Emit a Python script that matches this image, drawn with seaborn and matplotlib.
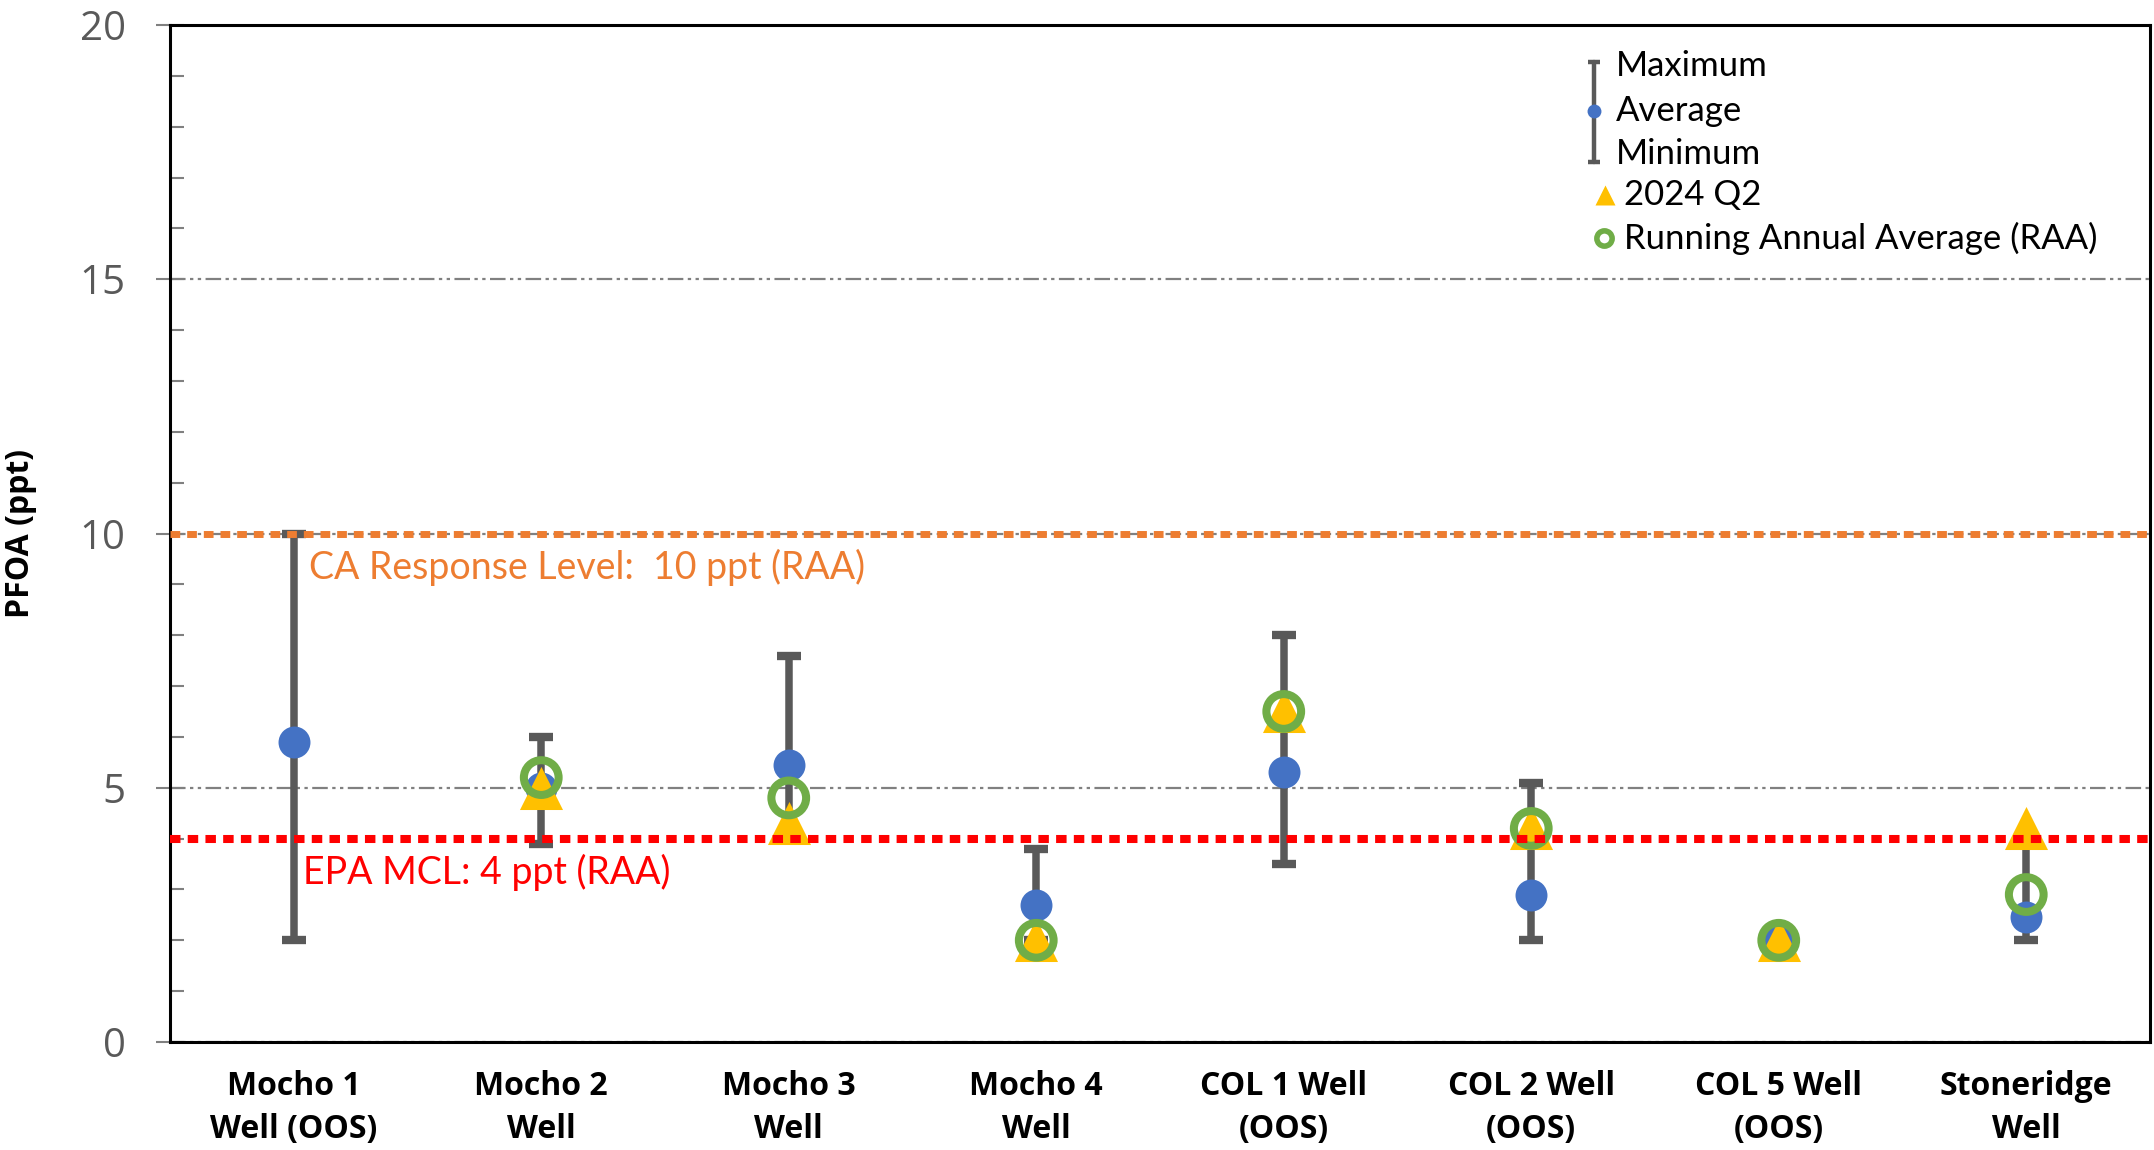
import numpy as np
import pandas as pd
import matplotlib
matplotlib.use("Agg")
import matplotlib.pyplot as plt
import seaborn as sns

# PFOA sampling summary per well (ppt)
wells = ["Mocho 1\nWell (OOS)", "Mocho 2\nWell", "Mocho 3\nWell", "Mocho 4\nWell",
         "COL 1 Well\n(OOS)", "COL 2 Well\n(OOS)", "COL 5 Well\n(OOS)", "Stoneridge\nWell"]
maximum = [10.0, 6.0, 7.6, 3.8, 8.0, 5.1, 2.0, 4.0]
average = [5.9, 5.0, 5.45, 2.7, 5.3, 2.9, 2.0, 2.45]
minimum = [2.0, 3.9, 4.0, 2.0, 3.5, 2.0, 2.0, 2.0]
q2_2024 = [np.nan, 5.0, 4.3, 2.0, 6.5, 4.2, 2.0, 4.2]
raa = [np.nan, 5.2, 4.8, 2.0, 6.5, 4.2, 2.0, 2.9]

ca_response_level = 10
epa_mcl = 4
y_ticks = [0, 5, 10, 15, 20]

BLUE = "#4472C4"
GOLD = "#FFC000"
GREEN = "#70AD47"
BAR = "#595959"
ORANGE = "#ED7D31"
RED = "#FF0000"
GRID = "#808080"
TICK_TXT = "#595959"

sns.set_theme(style="white")
plt.rcParams["font.family"] = ["Open Sans", "DejaVu Sans"]

df = pd.DataFrame({
    "pos": np.arange(len(wells)),
    "well": wells,
    "maximum": maximum,
    "average": average,
    "minimum": minimum,
    "q2": q2_2024,
    "raa": raa,
})

W, H = 2154, 1150
fig = plt.figure(figsize=(W / 100, H / 100), dpi=100)
ax = fig.add_axes([170 / W, 1 - 1042 / H, (2150 - 170) / W, (1042 - 25) / H])

# gridlines (long dash, dot, dot)
ax.set_axisbelow(True)
ax.yaxis.grid(True, which="major", color=GRID, lw=1.6,
              linestyle=(0, (7, 2, 1.5, 2, 1.5, 2)))
ax.xaxis.grid(False)

# min–max range bars
ax.errorbar(df["pos"], df["average"],
            yerr=[df["average"] - df["minimum"], df["maximum"] - df["average"]],
            fmt="none", ecolor=BAR, elinewidth=5.4, capsize=8.3, capthick=6,
            zorder=3)

# average
sns.scatterplot(data=df, x="pos", y="average", ax=ax, color=BLUE, marker="o",
                s=23 ** 2, linewidth=0, zorder=4, legend=False)
# 2024 Q2 result
sns.scatterplot(data=df, x="pos", y="q2", ax=ax, color=GOLD, marker="^",
                s=31 ** 2, linewidth=0, zorder=5, legend=False)
# running annual average (open ring)
sns.scatterplot(data=df, x="pos", y="raa", ax=ax, color=GREEN, marker="o",
                s=25 ** 2, zorder=6, legend=False)
ring = ax.collections[-1]
ring.set_facecolor("none")
ring.set_edgecolor(GREEN)
ring.set_linewidth(5.8)

# regulatory thresholds
ax.axhline(ca_response_level, color=ORANGE, lw=5, linestyle=(0, (1.4, 1.0)),
           dash_capstyle="butt", zorder=7)
ax.axhline(epa_mcl, color=RED, lw=5.8, linestyle=(0, (1.3, 0.9)),
           dash_capstyle="butt", zorder=7)
ax.text(0.07, ca_response_level - 0.3, "CA Response Level:  10 ppt (RAA)",
        color=ORANGE, fontsize=27, family=["Lato", "DejaVu Sans"],
        va="top", ha="left", transform=ax.get_yaxis_transform(), zorder=8)
ax.text(0.067, epa_mcl - 0.3, "EPA MCL: 4 ppt (RAA)",
        color=RED, fontsize=27, family=["Lato", "DejaVu Sans"],
        va="top", ha="left", transform=ax.get_yaxis_transform(), zorder=8)

# axes
ax.set_xlim(-0.5, len(wells) - 0.5)
ax.set_ylim(0, 20)
ax.set_yticks(y_ticks)
ax.set_yticks(np.arange(0, 21, 1), minor=True)
ax.tick_params(axis="y", which="major", direction="inout", length=20, width=1.5,
               color=GRID, labelsize=29, labelcolor=TICK_TXT, pad=22, left=True)
ax.tick_params(axis="y", which="minor", direction="in", length=10, width=1.5,
               color=GRID, left=True)
ax.set_xticks(df["pos"])
ax.set_xticklabels(wells, fontsize=23, fontweight="bold", color="black",
                   linespacing=1.4)
ax.tick_params(axis="x", which="both", length=0, pad=20)
ax.set_xlabel("")
ax.set_ylabel("PFOA (ppt)", fontsize=23, fontweight="bold", color="black")
ax.yaxis.set_label_coords(-0.0672, 0.5)
for s in ax.spines.values():
    s.set_visible(True)
    s.set_color("black")
    s.set_linewidth(2.2)

# key
lg_font = dict(fontsize=25, family=["Lato", "DejaVu Sans"], color="black",
               va="center", ha="left", transform=ax.transAxes)
gx = 0.719
ax.plot([gx, gx], [0.8653, 0.9636], color=BAR, lw=3.2, transform=ax.transAxes,
        clip_on=False, zorder=9)
ax.plot([gx - 0.003, gx + 0.003], [0.9636, 0.9636], color=BAR, lw=3.2,
        transform=ax.transAxes, zorder=9, solid_capstyle="butt")
ax.plot([gx - 0.003, gx + 0.003], [0.8653, 0.8653], color=BAR, lw=3.2,
        transform=ax.transAxes, zorder=9, solid_capstyle="butt")
ax.plot([gx], [0.9154], marker="o", ms=10, color=BLUE, mec="none",
        transform=ax.transAxes, zorder=10)
ax.text(0.7303, 0.9597, "Maximum", **lg_font)
ax.text(0.7303, 0.9154, "Average", **lg_font)
ax.text(0.7303, 0.8732, "Minimum", **lg_font)
ax.plot([0.7247], [0.8328], marker="^", ms=15, color=GOLD, mec="none",
        transform=ax.transAxes, zorder=10)
ax.text(0.7345, 0.8328, "2024 Q2", **lg_font)
ax.plot([0.7240], [0.7906], marker="o", ms=11, mfc="none", mec=GREEN, mew=4,
        transform=ax.transAxes, zorder=10)
ax.text(0.7345, 0.7906, "Running Annual Average (RAA)", **lg_font)

fig.savefig("out.png", dpi=100, facecolor="white")
